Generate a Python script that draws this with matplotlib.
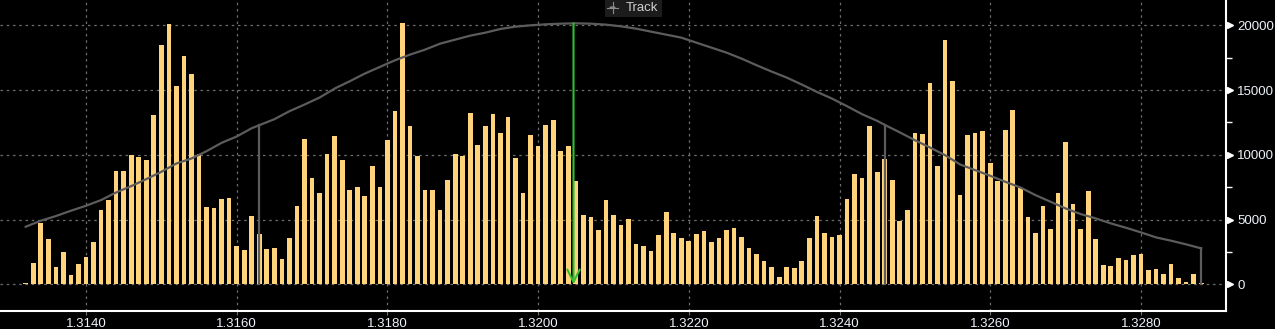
import numpy as np
import matplotlib
matplotlib.use('Agg')
import matplotlib.pyplot as plt
from matplotlib.ticker import MultipleLocator, FormatStrFormatter
from matplotlib.transforms import offset_copy
from matplotlib.patches import Rectangle, Circle
from matplotlib.lines import Line2D

# price levels of the histogram, one bar per 0.0001
first_price = 1.3132
last_price = 1.3288
prices = np.round(np.arange(first_price, last_price + 0.00005, 0.0001), 4)

volumes = [
    100, 1650, 4730, 3500, 1340, 2490, 720, 1570,                     # 1.3132-1.3139
    2110, 3260, 5730, 6500, 8740, 8740, 9970, 9820, 9590, 13060,      # 1.3140
    18450, 20070, 15290, 17600, 16220, 10050, 5960, 5890, 6580, 6660, # 1.3150
    2960, 2650, 5270, 3880, 2720, 2800, 1950, 3570, 6040, 11200,      # 1.3160
    8200, 7040, 10050, 11440, 9590, 7270, 7500, 6810, 9120, 7500,     # 1.3170
    11130, 13360, 20150, 12210, 9900, 7270, 7270, 5730, 8040, 10050,  # 1.3180
    9900, 13210, 10740, 12210, 13130, 11670, 12900, 9740, 7040, 11510,# 1.3190
    10670, 12290, 12670, 10280, 10670, 7970, 5350, 5190, 4190, 6500,  # 1.3200
    5350, 4580, 5040, 3110, 2960, 2570, 3800, 5580, 3960, 3570,       # 1.3210
    3340, 3880, 4110, 3260, 3570, 4190, 4340, 3650, 2800, 2340,       # 1.3220
    1800, 1340, 570, 1340, 1260, 1800, 3570, 5270, 3960, 3650,        # 1.3230
    3800, 6580, 8510, 8200, 12210, 8660, 9660, 8040, 4880, 5730,      # 1.3240
    11670, 11590, 15520, 9120, 18840, 15680, 6890, 11510, 11670, 11820, # 1.3250
    9360, 7970, 11900, 13440, 7430, 5190, 3960, 6040, 4270, 7040,     # 1.3260
    10970, 6190, 4270, 7200, 3500, 1490, 1410, 2030, 1880, 2260,      # 1.3270
    2340, 1110, 1180, 800, 1570, 490, 180, 800, 100,                  # 1.3280-1.3288
]

# grey distribution curve
curve_px = [1.3132, 1.3134, 1.3136, 1.3138, 1.3140, 1.3142, 1.3144, 1.3146, 1.3148,
            1.3150, 1.3152, 1.3154, 1.3156, 1.3158, 1.3160, 1.3162, 1.3163, 1.3165,
            1.3167, 1.3169, 1.3171, 1.3173, 1.3175, 1.3177, 1.3179, 1.3181, 1.3183,
            1.3185, 1.3187, 1.3189, 1.3191, 1.3193, 1.3195, 1.3197, 1.3199, 1.3201,
            1.3203, 1.3205, 1.3207, 1.3209, 1.3211, 1.3213, 1.3215, 1.3217, 1.3219,
            1.3221, 1.3223, 1.3225, 1.3227, 1.3229, 1.3231, 1.3233, 1.3235, 1.3237,
            1.3239, 1.3241, 1.3243, 1.3245, 1.3246, 1.3248, 1.3250, 1.3252, 1.3254,
            1.3256, 1.3258, 1.3260, 1.3262, 1.3264, 1.3266, 1.3268, 1.3270, 1.3272,
            1.3274, 1.3276, 1.3278, 1.3280, 1.3282, 1.3284, 1.3286, 1.3288]
curve_vol = [4446, 4909, 5269, 5680, 6065, 6502, 7093, 7581, 8121,
             8687, 9329, 9715, 10280, 10923, 11411, 12053, 12285, 12747,
             13364, 13878, 14418, 15112, 15677, 16268, 16782, 17296, 17733,
             18119, 18581, 18890, 19198, 19429, 19712, 19892, 19995, 20072,
             20123, 20149, 20123, 20046, 19918, 19738, 19506, 19275, 19044,
             18658, 18273, 17887, 17425, 16911, 16422, 15960, 15420, 14855,
             14341, 13750, 13133, 12619, 12310, 11730, 11128, 10563, 9972,
             9252, 8815, 8378, 7916, 7479, 6888, 6374, 5860, 5423,
             5089, 4703, 4369, 4009, 3624, 3367, 3084, 2776]

# value-area bounds (vertical drops of the curve)
bounds = [1.3163, 1.3246, 1.3288]

# last price marker
track_price = 1.32047
track_top = 20149

xticks = [1.3140, 1.3160, 1.3180, 1.3200, 1.3220, 1.3240, 1.3260, 1.3280]
yticks = [0, 5000, 10000, 15000, 20000]

W, H = 1275, 329
fig = plt.figure(figsize=(W / 100, H / 100), dpi=100, facecolor='black')
ax = fig.add_axes([0, 18 / H, 1226 / W, 1 - 18 / H], facecolor='black')

label_family = ['Liberation Sans', 'DejaVu Sans']
txt_col = '#eef3fa'
grid_col = '#6e6e6e'

ax.bar(prices, volumes, width=0.000062, color='#FFD37A', zorder=3)
ax.plot(curve_px, curve_vol, color='#5c5c5c', lw=1.6, zorder=4)
for b in bounds:
    top = np.interp(b, curve_px, curve_vol)
    ax.plot([b, b], [0, top], color='#5c5c5c', lw=1.6, zorder=4)

ax.annotate('', xy=(track_price, 0), xytext=(track_price, track_top),
            arrowprops=dict(arrowstyle='->,head_length=0.5,head_width=0.25',
                            color='#2fbf2f', lw=1.5, mutation_scale=18,
                            shrinkA=0, shrinkB=0), zorder=5)

ax.set_xlim(1.312859, 1.329129)
ax.set_ylim(-2060, 21950)

ax.set_xticks(xticks)
ax.xaxis.set_major_formatter(FormatStrFormatter('%.4f'))
ax.set_yticks(yticks)
ax.yaxis.set_minor_locator(MultipleLocator(2500))
ax.yaxis.tick_right()

ax.grid(True, which='major', color=grid_col, linestyle=(0, (2, 3)), lw=0.9, zorder=1)

for s in ['top', 'left']:
    ax.spines[s].set_visible(False)
for s in ['right', 'bottom']:
    ax.spines[s].set_color('white')
    ax.spines[s].set_linewidth(1.5)

ax.tick_params(axis='x', which='major', length=3, color=grid_col, pad=2,
               labelcolor=txt_col)
ax.tick_params(axis='y', which='major', length=0, pad=8, labelcolor=txt_col)
ax.tick_params(axis='y', which='minor', length=4, color='white', width=1)
for lab in ax.get_xticklabels() + ax.get_yticklabels():
    lab.set_fontfamily(label_family)
    lab.set_fontsize(9.5)

# little white pointers on the value axis
tri_tr = offset_copy(ax.get_yaxis_transform(), fig=fig, x=4, units='dots')
ax.plot([1] * len(yticks), yticks, linestyle='none', marker='>', markersize=5,
        color='white', transform=tri_tr, clip_on=False, zorder=6)

# "Track" button at the top
def fx(p):
    return p / W

def fy(p):
    return 1 - p / H

fig.add_artist(Rectangle((fx(605), fy(17)), fx(57), 17 / H, transform=fig.transFigure,
                         facecolor='#1c1c1c', edgecolor='none', zorder=10))
fig.add_artist(Circle((fx(612.5), fy(7.5)), 2.5 / W, transform=fig.transFigure,
                      facecolor='none', edgecolor='#8a8a8a', lw=0.8, zorder=11))
fig.add_artist(Line2D([fx(607), fx(618)], [fy(7.5), fy(7.5)], transform=fig.transFigure,
                      color='#8a8a8a', lw=0.8, zorder=11))
fig.add_artist(Line2D([fx(612.5), fx(612.5)], [fy(2), fy(13)], transform=fig.transFigure,
                      color='#8a8a8a', lw=0.8, zorder=11))
fig.text(fx(626), fy(8), 'Track', color='#d0d0d0', fontsize=9.5,
         family=label_family, va='center', ha='left', zorder=11)

fig.savefig('out.png', dpi=100, facecolor='black')
